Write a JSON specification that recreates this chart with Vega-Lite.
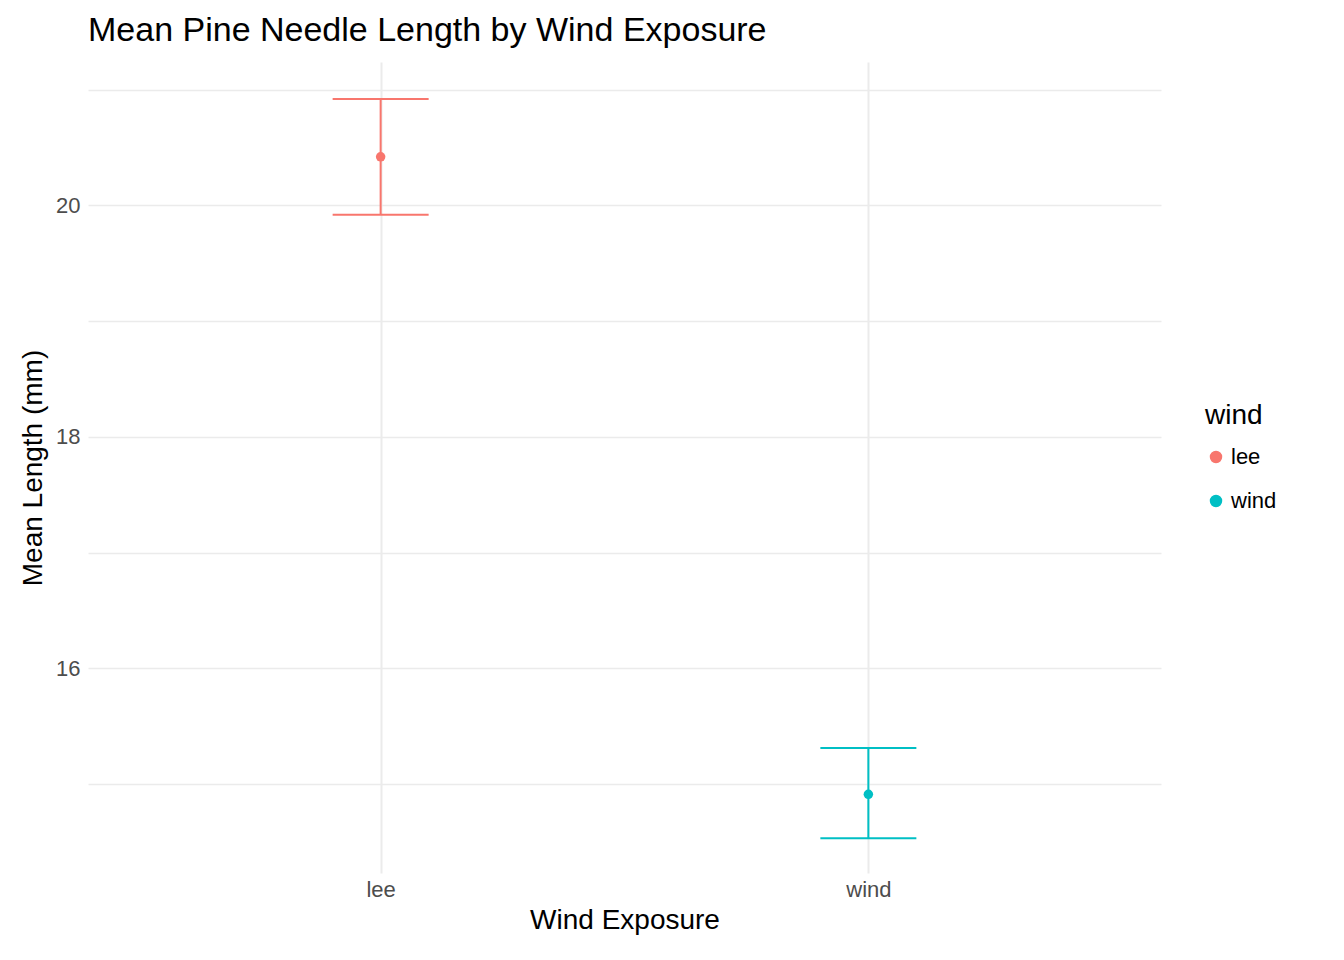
{
  "$schema": "https://vega.github.io/schema/vega-lite/v6.json",
  "autosize": "none",
  "width": 1073,
  "height": 811,
  "padding": {"left": 88, "top": 62, "right": 183, "bottom": 87},
  "background": "white",
  "title": {"text": "Mean Pine Needle Length by Wind Exposure", "anchor": "start", "frame": "group", "font": "Liberation Sans", "fontSize": 34, "fontWeight": "normal", "color": "black", "offset": 14},
  "config": {"view": {"stroke": null}, "font": "Liberation Sans"},
  "data": {"values": [
    {"wind": "lee", "mean": 20.42, "lo": 19.92, "hi": 20.92},
    {"wind": "wind", "mean": 14.91, "lo": 14.53, "hi": 15.31}
  ]},
  "encoding": {
    "x": {"field": "wind", "type": "nominal", "scale": {"type": "point", "padding": 0.6},
      "axis": {"title": "Wind Exposure", "titleFontSize": 28, "titleFontWeight": "normal", "titleColor": "black", "labelAngle": 0, "labelFontSize": 22, "labelColor": "#4D4D4D", "domain": false, "ticks": false, "grid": true, "gridColor": "#EBEBEB", "gridWidth": 2, "labelPadding": 6, "titlePadding": 6}},
    "color": {"field": "wind", "type": "nominal", "scale": {"range": ["#F8766D", "#00BFC4"]},
      "legend": {"orient": "none", "legendX": 1117, "legendY": 340, "title": "wind", "titleFontSize": 28, "titleFontWeight": "normal", "titleColor": "black", "labelFontSize": 22, "labelColor": "black", "symbolType": "circle", "symbolSize": 120, "symbolOpacity": 1, "rowPadding": 22, "titlePadding": 16}}
  },
  "layer": [
    {"mark": {"type": "rule", "strokeWidth": 2, "opacity": 1},
      "encoding": {"y": {"field": "lo", "type": "quantitative", "scale": {"domain": [14.23, 21.24], "zero": false, "nice": false},
        "axis": {"title": "Mean Length (mm)", "titleFontSize": 28, "titleFontWeight": "normal", "titleColor": "black", "values": [15,16,17,18,19,20,21], "labelExpr": "datum.value % 2 == 0 ? datum.value : ''", "labelFontSize": 22, "labelColor": "#4D4D4D", "domain": false, "ticks": false, "gridColor": "#EBEBEB", "gridWidth": 1.5, "labelPadding": 8, "titlePadding": 8}},
        "y2": {"field": "hi"}}},
    {"mark": {"type": "tick", "thickness": 2, "size": 96, "opacity": 1}, "encoding": {"y": {"field": "lo", "type": "quantitative"}}},
    {"mark": {"type": "tick", "thickness": 2, "size": 96, "opacity": 1}, "encoding": {"y": {"field": "hi", "type": "quantitative"}}},
    {"mark": {"type": "point", "filled": true, "opacity": 1, "size": 90}, "encoding": {"y": {"field": "mean", "type": "quantitative"}}}
  ]
}
